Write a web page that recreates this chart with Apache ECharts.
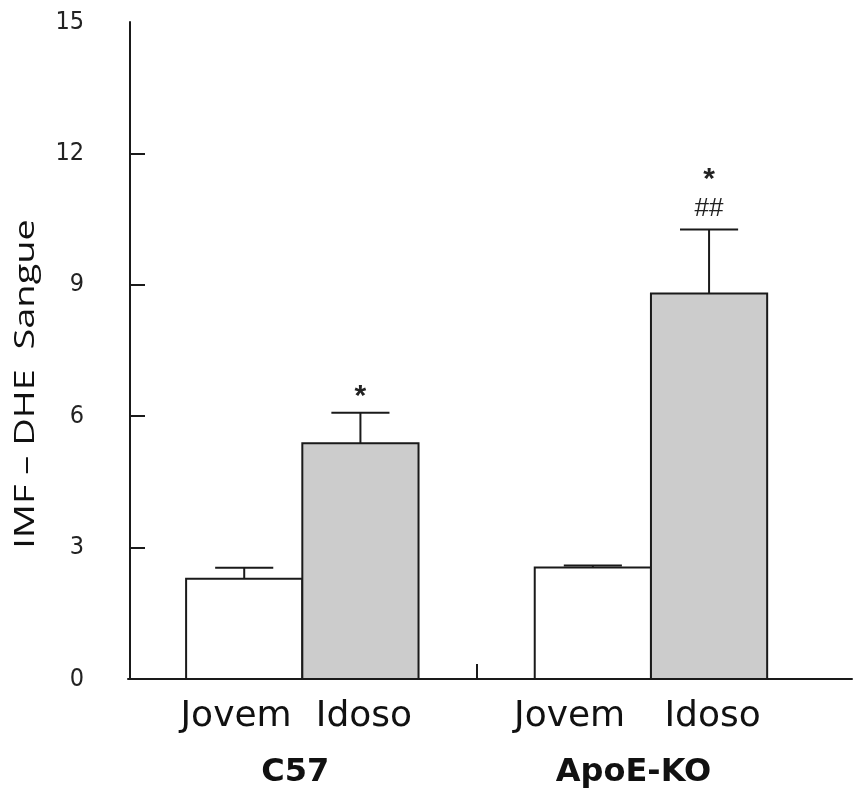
<!DOCTYPE html>
<html><head><meta charset="utf-8">
<script src="https://cdn.jsdelivr.net/npm/echarts@6/dist/echarts.min.js"></script>
<style>html,body{margin:0;padding:0;background:#fff}#c{width:854px;height:790px}</style>
</head><body><div id="c"></div>
<script>
// ---- data ----
const positions = [1, 2, 4, 5];
const groups = ['C57', 'C57', 'ApoE-KO', 'ApoE-KO'];
const conditions = ['Jovem', 'Idoso', 'Jovem', 'Idoso'];
const means = [2.29, 5.38, 2.545, 8.80];
const sems = [0.25, 0.70, 0.045, 1.46];
const annotations = [[], ['*'], [], ['##', '*']];
const yTicks = [0, 3, 6, 9, 12, 15];
const groupNames = ['C57', 'ApoE-KO'];
const yAxisTitle = 'IMF – DHE  Sangue';

// ---- layout / style ----
const condLabelAt = [0.93, 2.03, 3.80, 5.03];
const groupLabelAt = [1.44, 4.35];
const fillFor = { 'Jovem': '#ffffff', 'Idoso': '#cccccc' };
const ink = '#1a1a1a';

const chart = echarts.init(document.getElementById('c'), null, { renderer: 'canvas' });

const seriesData = positions.map((p, i) => [p, means[i], sems[i]]);

chart.setOption({
  animation: false,
  backgroundColor: '#ffffff',
  grid: { left: 128, right: 2, top: 22, bottom: 111, containLabel: false },
  xAxis: [{
    type: 'value', min: 0, max: 6.23, position: 'bottom',
    axisLine: { show: true, lineStyle: { color: ink, width: 2 } },
    axisTick: { show: true, inside: true, length: 15, customValues: [3], lineStyle: { color: ink, width: 2 } },
    axisLabel: {
      show: true, customValues: condLabelAt, margin: 20,
      formatter: v => conditions[condLabelAt.indexOf(v)] || '',
      fontFamily: 'DejaVu Sans', fontSize: 36, color: '#111'
    },
    splitLine: { show: false }
  }, {
    type: 'value', min: 0, max: 6.23, position: 'bottom', gridIndex: 0,
    axisLine: { show: false }, axisTick: { show: false },
    axisLabel: {
      show: true, customValues: groupLabelAt, margin: 78,
      formatter: v => groupNames[groupLabelAt.indexOf(v)] || '',
      fontFamily: 'DejaVu Sans', fontWeight: 'bold', fontSize: 32, color: '#111'
    },
    splitLine: { show: false }
  }],
  yAxis: {
    type: 'value', min: 0, max: 15, interval: 3, offset: -2,
    axisLine: { show: true, lineStyle: { color: ink, width: 2 } },
    axisTick: { show: true, inside: true, length: 15, customValues: yTicks.slice(1, 5), lineStyle: { color: ink, width: 2 } },
    axisLabel: {
      customValues: yTicks, margin: 46,
      fontFamily: "'Liberation Sans Narrow', 'DejaVu Sans Condensed', sans-serif", fontSize: 25, color: '#222'
    },
    splitLine: { show: false }
  },
  graphic: [{
    type: 'text', x: 26, y: 384, rotation: Math.PI / 2, scaleX: 1.355,
    style: { text: yAxisTitle, font: '28px "Open Sans"', fill: '#111', align: 'center', verticalAlign: 'middle' }
  }],
  series: [{
    type: 'custom',
    xAxisIndex: 0, yAxisIndex: 0,
    data: seriesData,
    clip: false,
    renderItem: function (params, api) {
      const i = params.dataIndex;
      const x = api.value(0), m = api.value(1), s = api.value(2);
      const tl = api.coord([x - 0.5, m]);
      const br = api.coord([x + 0.5, 0]);
      const c = api.coord([x, m]);
      const top = api.coord([x, m + s]);
      const capL = api.coord([x - 0.25, m + s]);
      const capR = api.coord([x + 0.25, m + s]);
      const children = [
        { type: 'line', shape: { x1: c[0], y1: tl[1], x2: c[0], y2: top[1] }, style: { stroke: ink, lineWidth: 2 } },
        { type: 'line', shape: { x1: capL[0], y1: top[1], x2: capR[0], y2: top[1] }, style: { stroke: ink, lineWidth: 2 } },
        { type: 'rect', shape: { x: tl[0], y: tl[1], width: br[0] - tl[0], height: br[1] - tl[1] },
          style: { fill: fillFor[conditions[i]], stroke: ink, lineWidth: 2 } }
      ];
      annotations[i].forEach((txt, k) => {
        const isStar = txt === '*';
        const yy = top[1] - 21 - 34 * k + (isStar ? 5 : 0);
        children.push({
          type: 'text', x: c[0], y: yy,
          style: { text: txt, font: (isStar ? 'bold 30px' : '26px') + ' "Liberation Sans", Arial, sans-serif', fill: '#222', align: 'center', verticalAlign: 'middle' }
        });
      });
      return { type: 'group', children: children };
    }
  }]
});
</script>
</body></html>
